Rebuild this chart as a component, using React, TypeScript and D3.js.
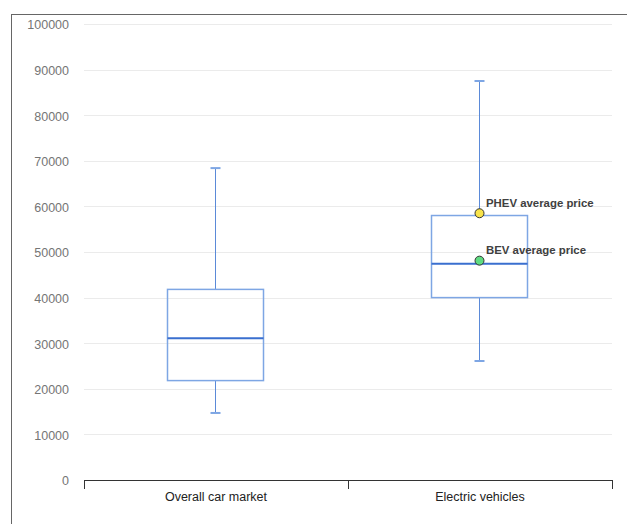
import React from "react";
import * as d3 from "d3";

const categories = ["Overall car market", "Electric vehicles"];
const whiskerMin = [14700, 26100];
const q1 = [21800, 40000];
const medians = [31100, 47400];
const q3 = [41800, 58000];
const whiskerMax = [68400, 87500];

const pointLabels = ["PHEV average price", "BEV average price"];
const pointCategory = ["Electric vehicles", "Electric vehicles"];
const pointValues = [58500, 48100];
const pointColors = ["#f7e34b", "#5fdc82"];

const yTicks = [0, 10000, 20000, 30000, 40000, 50000, 60000, 70000, 80000, 90000, 100000];

const W = 627;
const H = 524;
const left = 84;
const right = 612;
const top = 24;
const bottom = 480;

export default function App() {
  const x = d3.scaleBand<string>().domain(categories).range([left, right]).paddingInner(0).paddingOuter(0);
  const y = d3.scaleLinear().domain([0, 100000]).range([bottom, top]);
  const boxW = 96;
  const capW = 10;
  const font = "Arial, 'Liberation Sans', Helvetica, sans-serif";

  return (
    <svg width={W} height={H} style={{ position: "absolute", left: 0, top: 0, background: "#fff" }}>
      <line x1={11} y1={14.5} x2={W} y2={14.5} stroke="#666" strokeWidth={1} />
      <line x1={11.5} y1={14} x2={11.5} y2={H} stroke="#666" strokeWidth={1} />
      {yTicks.map((t) => (
        <g key={t}>
          {t > 0 && (
            <line x1={left} x2={right} y1={Math.round(y(t)) + 0.5} y2={Math.round(y(t)) + 0.5} stroke="#ebebeb" strokeWidth={1} />
          )}
          <text x={69} y={y(t) + 1} dy="0.35em" textAnchor="end" fontFamily={font} fontSize={12.5} fill="#757575">
            {t}
          </text>
        </g>
      ))}
      {/* x axis */}
      <line x1={left} x2={right} y1={bottom + 0.5} y2={bottom + 0.5} stroke="#333" strokeWidth={1} />
      {[...categories.map((c) => x(c) as number), right].map((tx, i) => (
        <line key={i} x1={Math.round(tx) + 0.5} x2={Math.round(tx) + 0.5} y1={bottom} y2={bottom + 9} stroke="#333" strokeWidth={1} />
      ))}
      {categories.map((c) => (
        <text key={c} x={(x(c) as number) + x.bandwidth() / 2} y={501} textAnchor="middle" fontFamily={font} fontSize={12.5} fill="#222">
          {c}
        </text>
      ))}
      {categories.map((c, i) => {
        const cx = Math.round((x(c) as number) + x.bandwidth() / 2) - 0.5;
        return (
          <g key={c}>
            <line x1={cx} x2={cx} y1={y(whiskerMax[i])} y2={y(q3[i])} stroke="#5b8ad8" strokeWidth={1} />
            <line x1={cx} x2={cx} y1={y(q1[i])} y2={y(whiskerMin[i])} stroke="#5b8ad8" strokeWidth={1} />
            <line x1={cx - capW / 2} x2={cx + capW / 2} y1={y(whiskerMax[i])} y2={y(whiskerMax[i])} stroke="#7ea6e4" strokeWidth={2} />
            <line x1={cx - capW / 2} x2={cx + capW / 2} y1={y(whiskerMin[i])} y2={y(whiskerMin[i])} stroke="#7ea6e4" strokeWidth={2} />
            <rect x={cx - boxW / 2} y={y(q3[i])} width={boxW} height={y(q1[i]) - y(q3[i])} fill="none" stroke="#7ea6e4" strokeWidth={1.5} />
            <line x1={cx - boxW / 2} x2={cx + boxW / 2} y1={y(medians[i])} y2={y(medians[i])} stroke="#3a6fcf" strokeWidth={2} />
          </g>
        );
      })}
      {pointLabels.map((lab, i) => {
        const px = Math.round((x(pointCategory[i]) as number) + x.bandwidth() / 2) - 0.5;
        const py = y(pointValues[i]);
        return (
          <g key={lab}>
            <circle cx={px} cy={py} r={4.5} fill={pointColors[i]} stroke="#333" strokeWidth={1} />
            <text x={px + 6.5} y={py - 6.5} fontFamily={font} fontSize={11.4} fontWeight="bold" fill="#404040">
              {lab}
            </text>
          </g>
        );
      })}
    </svg>
  );
}
